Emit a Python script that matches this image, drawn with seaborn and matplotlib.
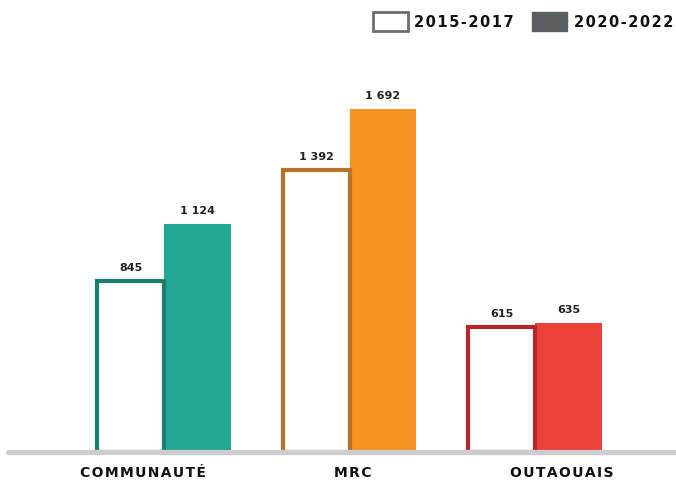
import matplotlib
matplotlib.use("Agg")
import matplotlib.pyplot as plt
from matplotlib.patches import Patch
import seaborn as sns
import pandas as pd

categories = ["COMMUNAUTÉ", "MRC", "OUTAOUAIS"]
periods = ["2015-2017", "2020-2022"]
values_2015 = [845, 1392, 615]
values_2020 = [1124, 1692, 635]

fill_colors = ["#23a795", "#f49322", "#eb4035"]
edge_colors = ["#1c7c6d", "#b9712b", "#b8262c"]

df = pd.DataFrame({
    "categorie": categories * 2,
    "periode": [periods[0]] * 3 + [periods[1]] * 3,
    "valeur": values_2015 + values_2020,
})

sns.set_theme(style="white")
plt.rcParams["font.family"] = ["DejaVu Sans"]

HAIR = "\u200a"


def spaced(s):
    """Open up the tracking of a label with hair spaces."""
    return HAIR.join(s)


W, H = 676, 481
fig = plt.figure(figsize=(W / 100, H / 100), dpi=100)
base_px = 28
ax = fig.add_axes([0, base_px / H, 1, (H - base_px) / H])

sns.barplot(data=df, x="categorie", y="valeur", hue="periode",
            hue_order=periods, order=categories, width=0.72,
            palette=["#ffffff", "#5b5e5e"], legend=False, ax=ax,
            saturation=1)

px_per_unit = 185.5
ax.set_xlim(-164 / px_per_unit, (W - 164) / px_per_unit)
ax.set_ylim(0, 1692 * (H - base_px) / (453 - 110))

hollow, filled = ax.containers[0], ax.containers[1]
for i, bar in enumerate(hollow):
    bar.set_facecolor("white")
    bar.set_edgecolor(edge_colors[i])
    bar.set_linewidth(3)
    bar.set_zorder(3)
for i, bar in enumerate(filled):
    bar.set_facecolor(fill_colors[i])
    bar.set_edgecolor("none")
    bar.set_zorder(2)


def fmt(v):
    return f"{v:,}".replace(",", " ")


for cont, vals in ((hollow, values_2015), (filled, values_2020)):
    for bar, v in zip(cont, vals):
        ax.annotate(fmt(v), (bar.get_x() + bar.get_width() / 2, v),
                    xytext=(0, 6.5), textcoords="offset points",
                    ha="center", va="bottom", fontsize=8,
                    fontweight="bold", color="#222222", zorder=5)

ax.axhline(0, xmin=8 / W, xmax=1, color="#cdcdcf", linewidth=3.8,
           zorder=4, clip_on=False)

for s in ax.spines.values():
    s.set_visible(False)
ax.set_yticks([])
ax.set_xticks([])
ax.set_xlabel("")
ax.set_ylabel("")

# category names under the baseline, slightly shifted off the group centres
label_shift_px = [-20.5, 3.5, 26.5]
for i, (cat, dx) in enumerate(zip(categories, label_shift_px)):
    ax.annotate(spaced(cat), (i, 0), xytext=(dx * 0.72, -17.3),
                textcoords="offset points", ha="center", va="baseline",
                fontsize=10, fontweight="bold", color="#111111",
                annotation_clip=False)

handles = [
    Patch(facecolor="white", edgecolor="#6e6e6e", linewidth=2),
    Patch(facecolor="#5b5e5e", edgecolor="#5b5e5e", linewidth=1),
]
leg = fig.legend(handles, [spaced(p) for p in periods], ncol=2,
                 frameon=False, loc="upper right",
                 bbox_to_anchor=(673 / W, (H - 13) / H),
                 handlelength=2.4, handleheight=1.6, handletextpad=0.45,
                 columnspacing=1.25, borderaxespad=0, borderpad=0,
                 prop={"weight": "bold", "size": 10.5})
for t in leg.get_texts():
    t.set_color("#111111")

fig.savefig("out.png", dpi=100)
